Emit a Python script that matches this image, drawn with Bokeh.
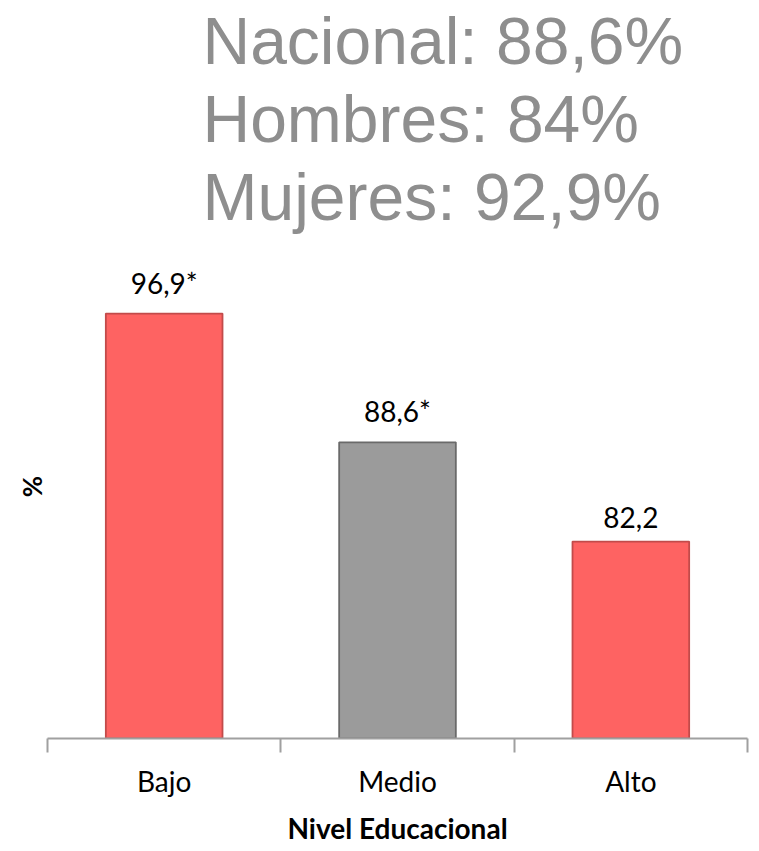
from bokeh.plotting import figure
from bokeh.models import FixedTicker, Range1d, Title, ColumnDataSource
from bokeh.embed import file_html
from bokeh.resources import INLINE
from bokeh.core.properties import value

# ---- data ----
categories = ["Bajo", "Medio", "Alto"]
values = [96.9, 88.6, 82.2]
value_labels = ["96,9*", "88,6*", "82,2"]
bar_colors = ["#FE6362", "#9B9B9B", "#FE6362"]
border_colors = ["#C24B4A", "#6A6A6A", "#C24B4A"]
header_lines = ["Nacional: 88,6%", "Hombres: 84%", "Mujeres: 92,9%"]
x_title = "Nivel Educacional"
y_title = "%"

Y0, Y1 = 69.5, 102.0

xs = [i + 0.5 for i in range(len(categories))]
src = ColumnDataSource(dict(x=xs, top=values, lab=value_labels,
                            fill=bar_colors, line=border_colors))

p = figure(width=755, height=851, output_backend="svg", toolbar_location=None,
           x_range=Range1d(0, len(categories)), y_range=Range1d(Y0, Y1),
           min_border_left=47, min_border_right=8, min_border_bottom=113,
           min_border_top=0, outline_line_color=None)
p.grid.grid_line_color = None
p.background_fill_color = "white"

p.vbar(x="x", top="top", bottom=Y0, width=0.5, fill_color="fill",
       line_color="line", line_width=1.8, source=src)
p.text(x="x", y="top", text="lab", source=src, text_align="center",
       text_baseline="bottom", y_offset=-14, text_font=value("Lato"),
       text_font_size="28px", text_color="black")

# header lines as titles (first added is nearest to the plot)
for line in reversed(header_lines):
    t = Title(text=line, align="left", offset=155, text_font="Liberation Sans",
              text_font_size="66px", text_font_style="normal",
              text_color="#8E8E8E", standoff=2)
    p.add_layout(t, "above")

# x axis
xa = p.xaxis[0]
xa.ticker = FixedTicker(ticks=xs, minor_ticks=list(range(len(categories) + 1)))
xa.major_label_overrides = {x: c for x, c in zip(xs, categories)}
xa.major_tick_out = 0
xa.major_tick_in = 0
xa.minor_tick_out = 14
xa.minor_tick_in = 0
xa.minor_tick_line_color = "#A0A0A0"
xa.minor_tick_line_width = 2
xa.axis_line_color = "#A0A0A0"
xa.axis_line_width = 2
xa.major_label_standoff = 11
xa.major_label_text_font = "Lato"
xa.major_label_text_font_size = "28px"
xa.major_label_text_color = "black"
xa.axis_label = x_title
xa.axis_label_text_font = "Lato"
xa.axis_label_text_font_style = "bold"
xa.axis_label_text_font_size = "28px"
xa.axis_label_text_color = "black"
xa.axis_label_standoff = 10

# y axis: only its title
ya = p.yaxis[0]
ya.ticker = FixedTicker(ticks=[])
ya.axis_line_color = None
ya.major_tick_out = 0
ya.major_tick_in = 0
ya.minor_tick_out = 0
ya.major_label_standoff = 0
ya.major_label_text_font_size = "0px"
ya.axis_label = y_title
ya.axis_label_text_font = "Lato"
ya.axis_label_text_font_style = "bold"
ya.axis_label_text_font_size = "26px"
ya.axis_label_text_color = "black"
ya.axis_label_standoff = 0

open("out.html", "w").write(file_html(p, INLINE))
